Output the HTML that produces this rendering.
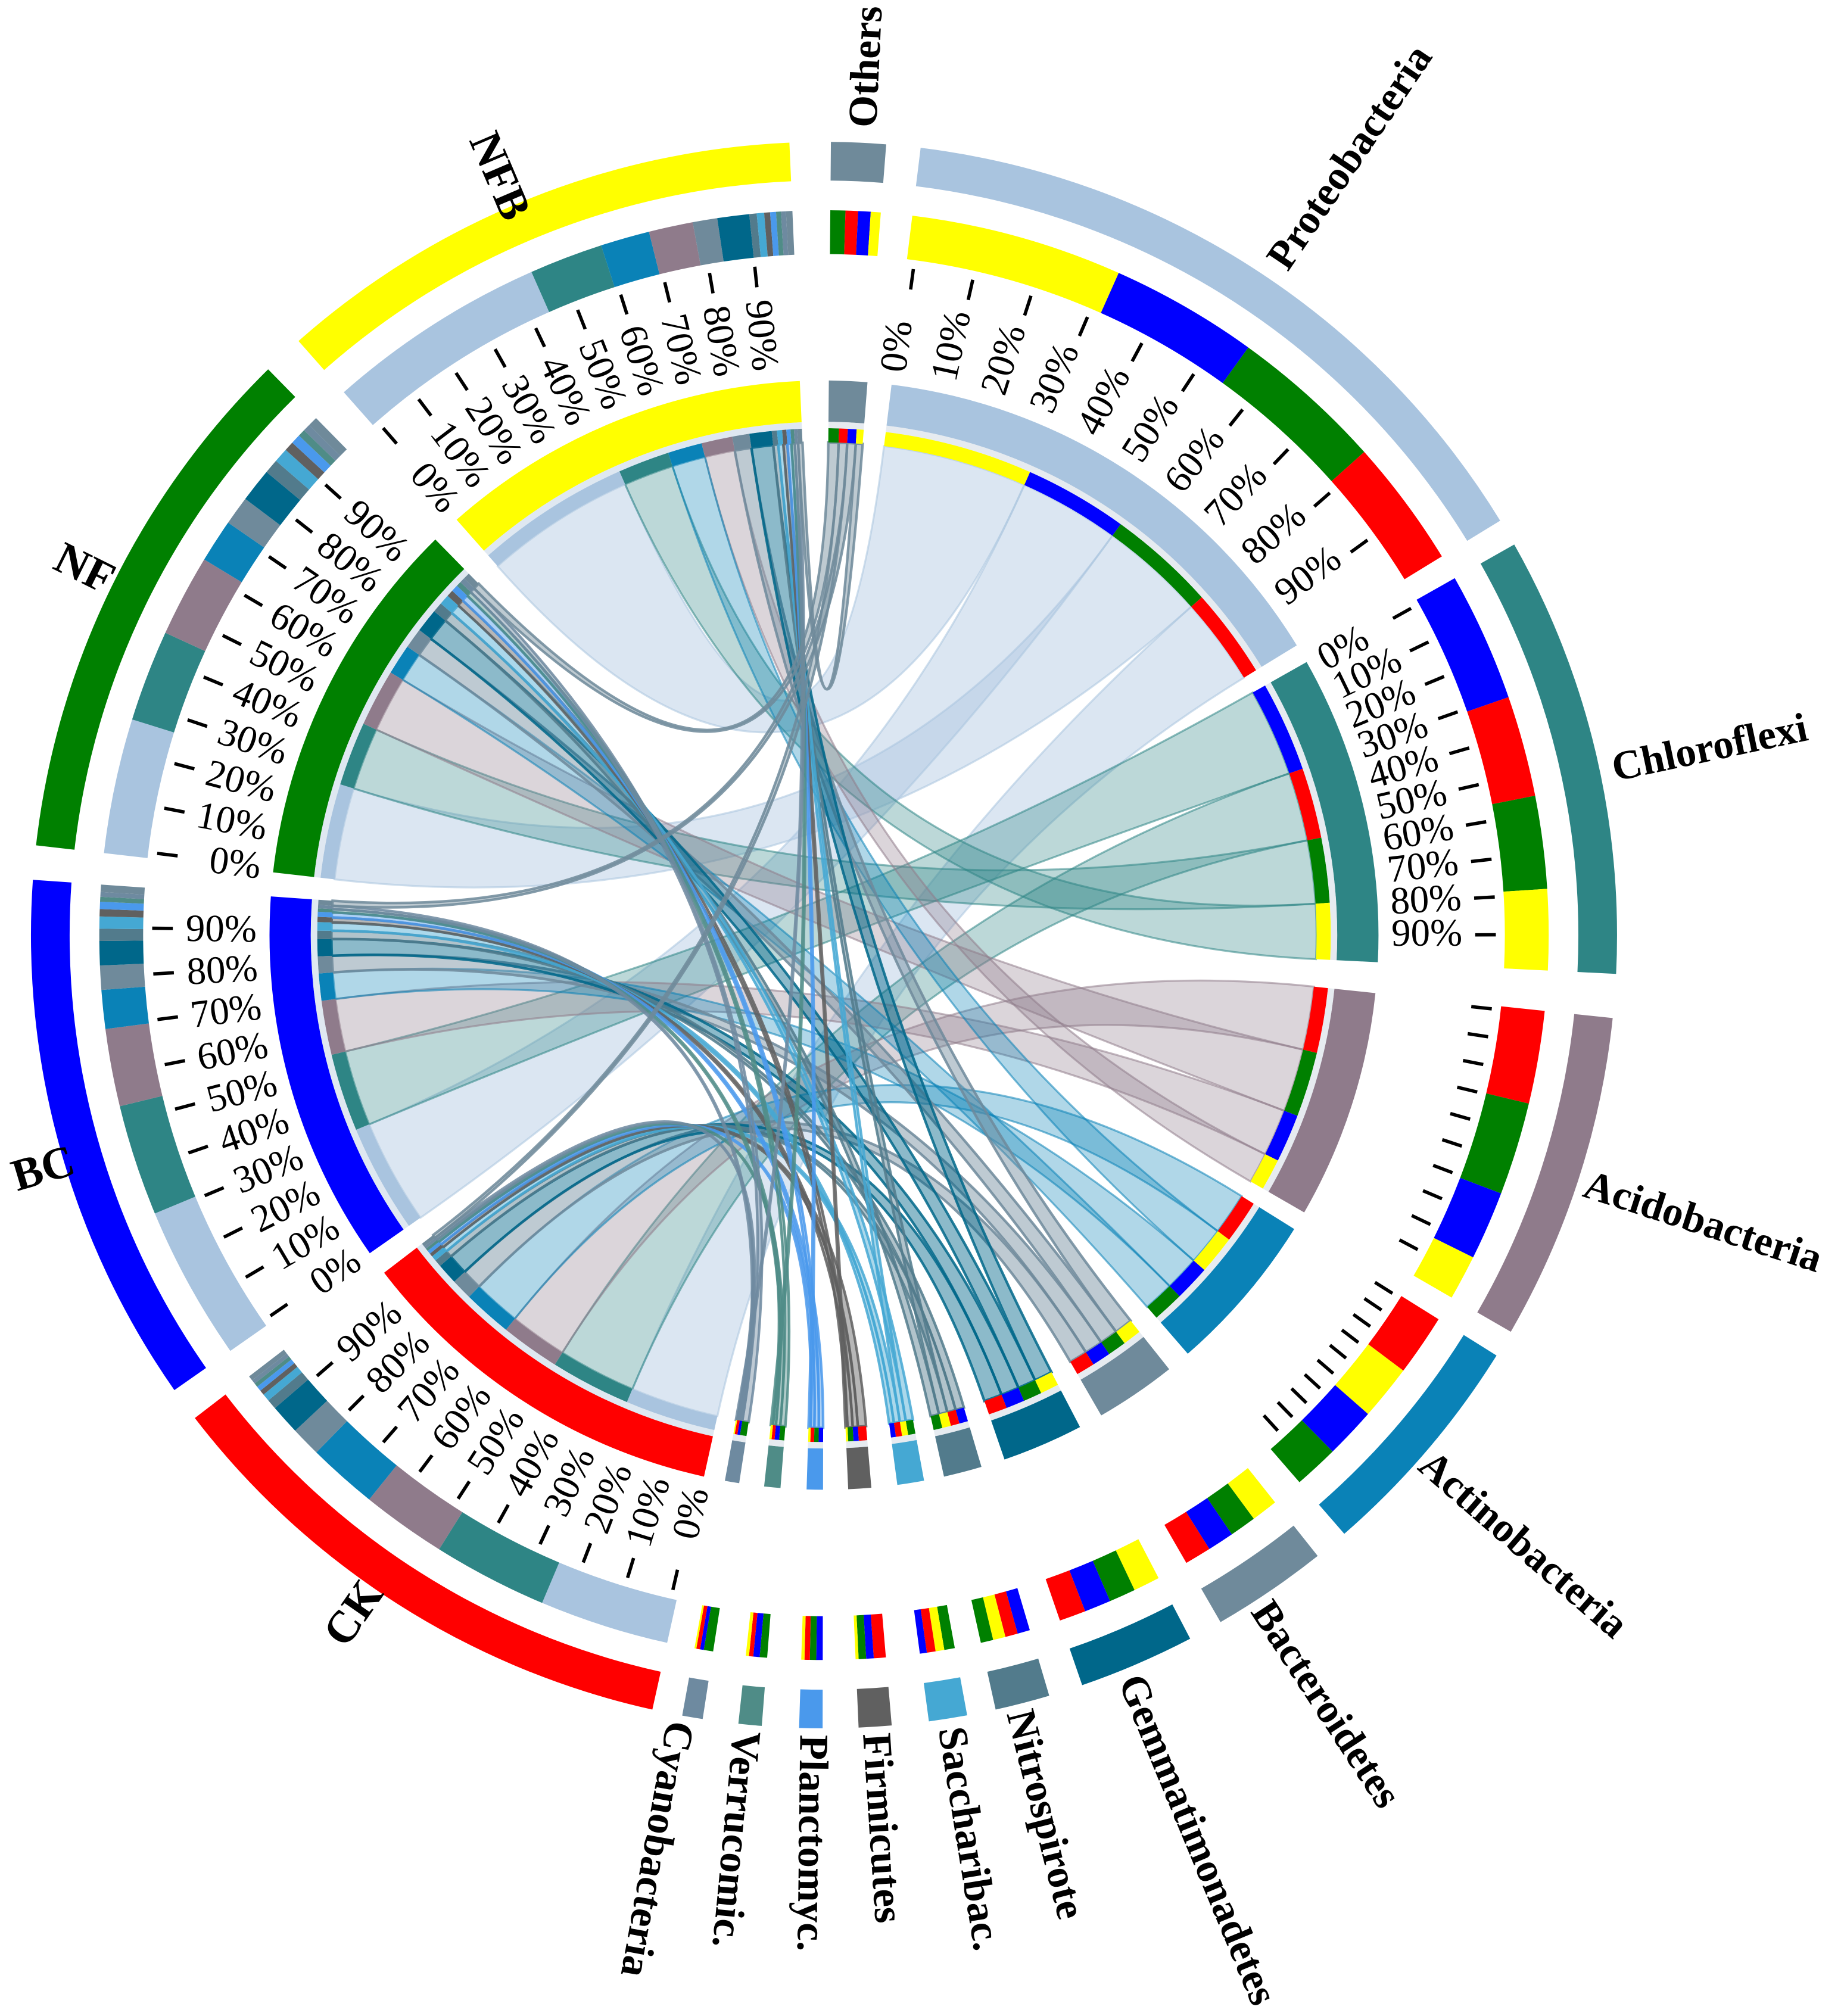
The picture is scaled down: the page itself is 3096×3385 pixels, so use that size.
<!DOCTYPE html>
<html><head><meta charset="utf-8"><style>
html,body{margin:0;padding:0;background:#fff}
svg{display:block}
text{font-family:"Liberation Serif",serif;dominant-baseline:central;fill:#000}
.r{font-size:30px;text-anchor:start}
.l{font-size:30px;text-anchor:end}
.ph{font-size:32px;font-weight:bold;text-anchor:start}
.sm{font-size:35px;font-weight:bold;text-anchor:middle}
</style></head><body>
<svg id="s" xmlns="http://www.w3.org/2000/svg" width="3096" height="3385" viewBox="0 0 1430 1563" preserveAspectRatio="none">
<rect width="1430" height="1563" fill="#fff"/>
<g id="chords"></g>
<g id="rings"></g>
<g id="labels">
<text class="r" transform="rotate(7 639 725) translate(639 285) rotate(-90)">0%</text>
<text class="r" transform="rotate(12.15 639 725) translate(639 285) rotate(-90)">10%</text>
<text class="r" transform="rotate(17.3 639 725) translate(639 285) rotate(-90)">20%</text>
<text class="r" transform="rotate(22.45 639 725) translate(639 285) rotate(-90)">30%</text>
<text class="r" transform="rotate(27.6 639 725) translate(639 285) rotate(-90)">40%</text>
<text class="r" transform="rotate(32.75 639 725) translate(639 285) rotate(-90)">50%</text>
<text class="r" transform="rotate(37.9 639 725) translate(639 285) rotate(-90)">60%</text>
<text class="r" transform="rotate(43.05 639 725) translate(639 285) rotate(-90)">70%</text>
<text class="r" transform="rotate(48.2 639 725) translate(639 285) rotate(-90)">80%</text>
<text class="r" transform="rotate(53.35 639 725) translate(639 285) rotate(-90)">90%</text>
<text class="r" transform="rotate(61 639 725) translate(639 285) rotate(-90)">0%</text>
<text class="r" transform="rotate(64.2 639 725) translate(639 285) rotate(-90)">10%</text>
<text class="r" transform="rotate(67.4 639 725) translate(639 285) rotate(-90)">20%</text>
<text class="r" transform="rotate(70.6 639 725) translate(639 285) rotate(-90)">30%</text>
<text class="r" transform="rotate(73.8 639 725) translate(639 285) rotate(-90)">40%</text>
<text class="r" transform="rotate(77 639 725) translate(639 285) rotate(-90)">50%</text>
<text class="r" transform="rotate(80.2 639 725) translate(639 285) rotate(-90)">60%</text>
<text class="r" transform="rotate(83.4 639 725) translate(639 285) rotate(-90)">70%</text>
<text class="r" transform="rotate(86.6 639 725) translate(639 285) rotate(-90)">80%</text>
<text class="r" transform="rotate(89.8 639 725) translate(639 285) rotate(-90)">90%</text>
<text class="l" transform="rotate(193 639 725) translate(639 285) rotate(90)">0%</text>
<text class="l" transform="rotate(197 639 725) translate(639 285) rotate(90)">10%</text>
<text class="l" transform="rotate(201 639 725) translate(639 285) rotate(90)">20%</text>
<text class="l" transform="rotate(205 639 725) translate(639 285) rotate(90)">30%</text>
<text class="l" transform="rotate(209 639 725) translate(639 285) rotate(90)">40%</text>
<text class="l" transform="rotate(213 639 725) translate(639 285) rotate(90)">50%</text>
<text class="l" transform="rotate(217 639 725) translate(639 285) rotate(90)">60%</text>
<text class="l" transform="rotate(221 639 725) translate(639 285) rotate(90)">70%</text>
<text class="l" transform="rotate(225 639 725) translate(639 285) rotate(90)">80%</text>
<text class="l" transform="rotate(229 639 725) translate(639 285) rotate(90)">90%</text>
<text class="l" transform="rotate(235.5 639 725) translate(639 285) rotate(90)">0%</text>
<text class="l" transform="rotate(239.4 639 725) translate(639 285) rotate(90)">10%</text>
<text class="l" transform="rotate(243.3 639 725) translate(639 285) rotate(90)">20%</text>
<text class="l" transform="rotate(247.2 639 725) translate(639 285) rotate(90)">30%</text>
<text class="l" transform="rotate(251.1 639 725) translate(639 285) rotate(90)">40%</text>
<text class="l" transform="rotate(255 639 725) translate(639 285) rotate(90)">50%</text>
<text class="l" transform="rotate(258.9 639 725) translate(639 285) rotate(90)">60%</text>
<text class="l" transform="rotate(262.8 639 725) translate(639 285) rotate(90)">70%</text>
<text class="l" transform="rotate(266.7 639 725) translate(639 285) rotate(90)">80%</text>
<text class="l" transform="rotate(270.6 639 725) translate(639 285) rotate(90)">90%</text>
<text class="l" transform="rotate(277 639 725) translate(639 285) rotate(90)">0%</text>
<text class="l" transform="rotate(280.9 639 725) translate(639 285) rotate(90)">10%</text>
<text class="l" transform="rotate(284.8 639 725) translate(639 285) rotate(90)">20%</text>
<text class="l" transform="rotate(288.7 639 725) translate(639 285) rotate(90)">30%</text>
<text class="l" transform="rotate(292.6 639 725) translate(639 285) rotate(90)">40%</text>
<text class="l" transform="rotate(296.5 639 725) translate(639 285) rotate(90)">50%</text>
<text class="l" transform="rotate(300.4 639 725) translate(639 285) rotate(90)">60%</text>
<text class="l" transform="rotate(304.3 639 725) translate(639 285) rotate(90)">70%</text>
<text class="l" transform="rotate(308.2 639 725) translate(639 285) rotate(90)">80%</text>
<text class="l" transform="rotate(312.1 639 725) translate(639 285) rotate(90)">90%</text>
<text class="l" transform="rotate(319 639 725) translate(639 285) rotate(90)">0%</text>
<text class="l" transform="rotate(322.9 639 725) translate(639 285) rotate(90)">10%</text>
<text class="l" transform="rotate(326.8 639 725) translate(639 285) rotate(90)">20%</text>
<text class="l" transform="rotate(330.7 639 725) translate(639 285) rotate(90)">30%</text>
<text class="l" transform="rotate(334.6 639 725) translate(639 285) rotate(90)">40%</text>
<text class="l" transform="rotate(338.5 639 725) translate(639 285) rotate(90)">50%</text>
<text class="l" transform="rotate(342.4 639 725) translate(639 285) rotate(90)">60%</text>
<text class="l" transform="rotate(346.3 639 725) translate(639 285) rotate(90)">70%</text>
<text class="l" transform="rotate(350.2 639 725) translate(639 285) rotate(90)">80%</text>
<text class="l" transform="rotate(354.1 639 725) translate(639 285) rotate(90)">90%</text>
<text class="ph" transform="rotate(2.7 639 725) translate(639 98) rotate(-90)">Others</text>
<text class="ph" transform="rotate(34 639 725) translate(639 98) rotate(-90)">Proteobacteria</text>
<text class="ph" transform="rotate(78 639 725) translate(639 100) rotate(-90)">Chloroflexi</text>
<text class="ph" transform="rotate(108 639 725) translate(639 104) rotate(-90)">Acidobacteria</text>
<text class="ph" transform="rotate(131 639 725) translate(639 107) rotate(-90)">Actinobacteria</text>
<text class="ph" transform="rotate(146.8 639 725) translate(639 105) rotate(-90)">Bacteroidetes</text>
<text class="ph" transform="rotate(157.5 639 725) translate(639 103) rotate(-90)">Gemmatimonadetes</text>
<text class="ph" transform="rotate(165.8 639 725) translate(639 105) rotate(-90)">Nitrospirote</text>
<text class="ph" transform="rotate(170.8 639 725) translate(639 103) rotate(-90)">Saccharibac.</text>
<text class="ph" transform="rotate(176.2 639 725) translate(639 105) rotate(-90)">Firmicutes</text>
<text class="ph" transform="rotate(180.7 639 725) translate(639 105) rotate(-90)">Planctomyc.</text>
<text class="ph" transform="rotate(185.5 639 725) translate(639 105) rotate(-90)">Verrucomic.</text>
<text class="ph" transform="rotate(190.3 639 725) translate(639 105) rotate(-90)">Cyanobacteria</text>
<text class="sm" transform="rotate(336.9 639 725) translate(639 85) rotate(90)">NFB</text>
<text class="sm" transform="rotate(296.4 639 725) translate(639 85) rotate(90)">NF</text>
<text class="sm" transform="rotate(253.4 639 725) translate(639 93) rotate(90)">BC</text>
<text class="sm" transform="rotate(214.8 639 725) translate(639 85) rotate(90)">CK</text>
</g>
</svg>
<script>
(function(){
var NS="http://www.w3.org/2000/svg",cx=639,cy=725;
function P(r,a){a=a*Math.PI/180;return (cx+r*Math.sin(a)).toFixed(2)+","+(cy-r*Math.cos(a)).toFixed(2);}
function el(g,tag,at){var e=document.createElementNS(NS,tag);for(var k in at)e.setAttribute(k,at[k]);g.appendChild(e);return e;}
function sector(r1,r2,a0,a1){var L=(a1-a0)>180?1:0;
 return "M"+P(r2,a0)+"A"+r2+","+r2+" 0 "+L+" 1 "+P(r2,a1)+"L"+P(r1,a1)+"A"+r1+","+r1+" 0 "+L+" 0 "+P(r1,a0)+"Z";}
var C={P:'#a9c4df',C:'#2e8585',Aci:'#8f7b8b',Act:'#0a82b7',B:'#6f8a9b',G:'#00678a',N:'#527b8c',S:'#45a8d3',F:'#606060',Pl:'#4a99ec',V:'#4f8c87',Cy:'#6e8aa0',O:'#6f8a9a',
 NFB:'#ffff00',NF:'#008000',BC:'#0000ff',CK:'#ff0000'};
var samples={
 NFB:[318.5,357.5,[['P',.45],['C',.15],['Act',.10],['Aci',.09],['B',.05],['G',.065],['N',.015],['S',.015],['F',.012],['Pl',.012],['V',.01],['Cy',.01],['O',.013]]],
 NF:[276.5,315.5,[['P',.28],['C',.19],['Aci',.17],['Act',.09],['B',.06],['G',.07],['N',.03],['S',.03],['F',.02],['Pl',.02],['V',.015],['Cy',.015],['O',.02]]],
 BC:[235,274,[['P',.32],['C',.23],['Aci',.16],['Act',.08],['B',.05],['G',.05],['N',.025],['S',.025],['F',.015],['Pl',.015],['V',.01],['Cy',.01],['O',.015]]],
 CK:[192.5,232.5,[['P',.26],['C',.23],['Aci',.17],['Act',.14],['B',.06],['G',.06],['N',.02],['S',.015],['F',.01],['Pl',.01],['V',.008],['Cy',.008],['O',.01]]]
};
var phyla={
 O:[0.5,4.5,[['NF',.3],['CK',.25],['BC',.25],['NFB',.2]]],
 P:[7,58.5,[['NFB',.33],['BC',.23],['NF',.24],['CK',.2]]],
 C:[60.5,92.8,[['BC',.32],['CK',.25],['NF',.23],['NFB',.2]]],
 Aci:[96,120,[['CK',.31],['NF',.31],['BC',.23],['NFB',.15]]],
 Act:[122,139,[['CK',.29],['NFB',.26],['BC',.24],['NF',.21]]],
 B:[141.5,150,[['NFB',.25],['NF',.25],['BC',.25],['CK',.25]]],
 G:[152.5,161,[['NFB',.25],['NF',.25],['BC',.25],['CK',.25]]],
 N:[163.5,167.5,[['BC',.25],['CK',.25],['NFB',.25],['NF',.25]]],
 S:[169.6,172.4,[['NF',.3],['NFB',.25],['CK',.25],['BC',.2]]],
 F:[175.1,177.5,[['CK',.4],['BC',.25],['NF',.25],['NFB',.1]]],
 Pl:[180.1,181.8,[['BC',.3],['NF',.3],['CK',.25],['NFB',.15]]],
 V:[184.5,186.2,[['NF',.35],['BC',.3],['CK',.2],['NFB',.15]]],
 Cy:[188.8,190.3,[['NF',.5],['BC',.2],['CK',.2],['NFB',.1]]]
};
function subs(obj){var out={};for(var k in obj){var a0=obj[k][0],a1=obj[k][1],L=obj[k][2],t=0;L.forEach(function(x){t+=x[1];});
 var c=a0,m={};L.forEach(function(x){var w=(a1-a0)*x[1]/t;m[x[0]]=[c,c+w];c+=w;});out[k]=m;}return out;}
var SS=subs(samples),PS=subs(phyla);
var rings=document.getElementById('rings'),chords=document.getElementById('chords');
var RO1=585,RO2=615,R21=528,R22=562,RB1=398,RB2=430,RS1=382,RS2=393,RC=382;
function drawGroup(obj,subm){
 for(var k in obj){var a0=obj[k][0],a1=obj[k][1];
  el(rings,'path',{d:sector(RO1,RO2,a0,a1),fill:C[k]});
  el(rings,'path',{d:sector(RB1,RB2,a0,a1),fill:C[k]});
  var m=subm[k];
  for(var j in m){
   el(rings,'path',{d:sector(R21,R22,m[j][0],m[j][1]),fill:C[j]});
   el(rings,'path',{d:sector(RS1,RS2,m[j][0],m[j][1]),fill:C[j]});
  }
 }
}
drawGroup(samples,SS);drawGroup(phyla,PS);
for(var k in samples){el(rings,'path',{d:sector(RS2,RB1,samples[k][0],samples[k][1]),fill:'#c9d8e8',opacity:0.6});}
for(var k in phyla){el(rings,'path',{d:sector(RS2,RB1,phyla[k][0],phyla[k][1]),fill:'#d5dde6',opacity:0.6});}
function ticks(a0,a1){for(var i=0;i<10;i++){var a=a0+(a1-a0)*i/10+(a1-a0)*0.0125;
 var p1=P(505,a).split(','),p2=P(521,a).split(',');
 el(rings,'line',{x1:p1[0],y1:p1[1],x2:p2[0],y2:p2[1],stroke:'#000','stroke-width':2.6});}}
['NFB','NF','BC','CK'].forEach(function(k){ticks(samples[k][0],samples[k][1]);});
['P','C','Aci','Act'].forEach(function(k){ticks(phyla[k][0],phyla[k][1]);});
var order=['P','C','Aci','Act','B','G','N','S','F','Pl','V','Cy','O'];
order.forEach(function(p,idx){
 for(var s in samples){
  var A=SS[s][p],B=PS[p][s];if(!A||!B)continue;
  var d="M"+P(RC,A[0])+"A"+RC+","+RC+" 0 0 1 "+P(RC,A[1])+"Q"+cx+","+cy+" "+P(RC,B[0])+"A"+RC+","+RC+" 0 0 1 "+P(RC,B[1])+"Q"+cx+","+cy+" "+P(RC,A[0])+"Z";
  var big=idx<4;
  el(chords,'path',{d:d,fill:C[p],'fill-opacity':big?(p=='P'?0.42:0.32):0.45,stroke:C[p],'stroke-opacity':big?0.55:0.85,'stroke-width':big?1.5:2});
 }
});
})();
</script>
</body></html>
